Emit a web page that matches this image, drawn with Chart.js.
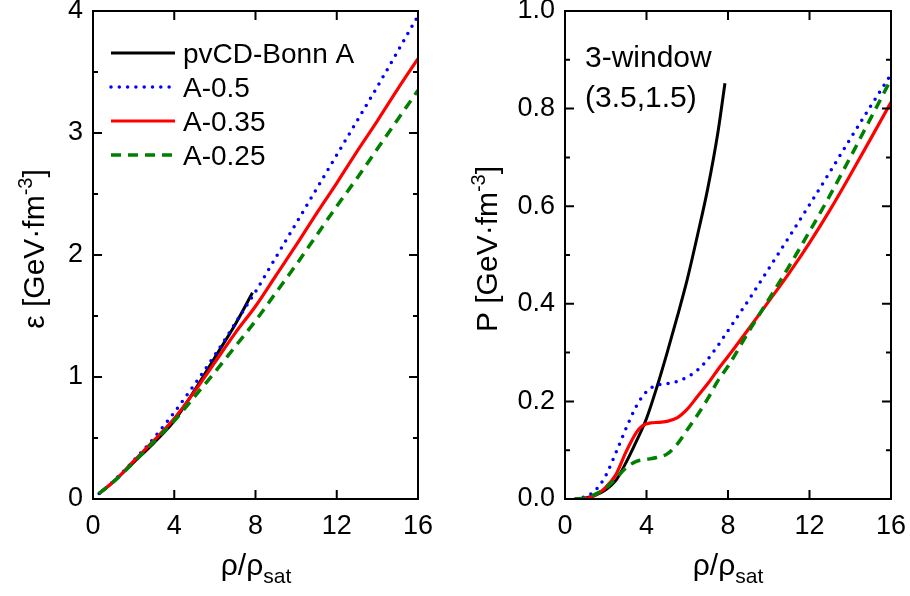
<!DOCTYPE html>
<html>
<head>
<meta charset="utf-8">
<script src="https://cdn.jsdelivr.net/npm/chart.js@4.4.1/dist/chart.umd.min.js"></script>
<style>
  html, body { margin: 0; padding: 0; background: #fff; }
  #wrap { position: relative; width: 910px; height: 596px; }
  canvas { position: absolute; top: 0; }
  #cE { left: 0; }
  #cP { left: 455px; }
</style>
</head>
<body>
<div id="wrap">
  <canvas id="cE" width="455" height="596"></canvas>
  <canvas id="cP" width="455" height="596"></canvas>
</div>
<script>
const FONT = "'Liberation Sans', Arial, Helvetica, sans-serif"
Chart.defaults.font.family = FONT
Chart.defaults.color = '#000'

// ---- data (x = rho/rho_sat) ----
const seriesNames = ['pvCD-Bonn A', 'A-0.5', 'A-0.35', 'A-0.25']
const xTicksRho = [0, 4, 8, 12, 16]

// left panel: energy density [GeV fm^-3]
const rhoBonnE = [0.3, 1, 2, 3, 4, 5, 6, 7, 7.85]
const epsBonn = [0.045, 0.14, 0.30, 0.46, 0.64, 0.89, 1.16, 1.43, 1.69]
const rhoE = [0.3, 1, 2, 3, 4, 5, 6, 7, 8, 9, 10, 11, 12, 13, 14, 15, 16]
const epsA05 = [0.045, 0.145, 0.315, 0.50, 0.71, 0.94, 1.18, 1.44, 1.70, 1.98, 2.26, 2.54, 2.82, 3.10, 3.38, 3.67, 3.96]
const epsA035 = [0.045, 0.14, 0.31, 0.48, 0.66, 0.88, 1.12, 1.36, 1.58, 1.83, 2.08, 2.34, 2.59, 2.85, 3.10, 3.36, 3.61]
const epsA025 = [0.045, 0.14, 0.30, 0.47, 0.64, 0.84, 1.04, 1.25, 1.46, 1.69, 1.92, 2.16, 2.40, 2.63, 2.87, 3.11, 3.35]

// right panel: pressure [GeV fm^-3]
const rhoBonnP = [0.5, 1, 1.5, 2, 2.5, 3, 3.5, 4, 4.5, 5, 5.5, 6, 6.5, 7, 7.5, 7.85]
const pBonn = [0, 0.002, 0.008, 0.019, 0.038, 0.075, 0.118, 0.165, 0.228, 0.298, 0.372, 0.45, 0.54, 0.635, 0.75, 0.852]
const rhoP = [0.5, 1, 1.5, 2, 2.5, 3, 3.5, 4, 4.5, 5, 5.5, 6, 6.5, 7, 7.5, 8, 9, 10, 11, 12, 13, 14, 15, 16]
const pA05 = [0, 0.005, 0.018, 0.048, 0.095, 0.145, 0.19, 0.22, 0.233, 0.236, 0.241, 0.25, 0.264, 0.286, 0.314, 0.345, 0.407, 0.472, 0.537, 0.603, 0.67, 0.738, 0.805, 0.87]
const rhoPA035 = [0.5, 1, 1.5, 2, 2.5, 3, 3.5, 3.8, 4.2, 4.6, 5, 5.5, 6, 6.5, 7, 7.5, 8, 9, 10, 11, 12, 13, 14, 15, 16]
const pA035 = [0, 0.001, 0.008, 0.024, 0.05, 0.097, 0.136, 0.150, 0.156, 0.157, 0.159, 0.166, 0.184, 0.21, 0.236, 0.265, 0.292, 0.348, 0.405, 0.463, 0.525, 0.592, 0.664, 0.738, 0.813]
const pA025 = [0, 0.002, 0.01, 0.022, 0.042, 0.064, 0.077, 0.081, 0.085, 0.092, 0.112, 0.142, 0.172, 0.205, 0.242, 0.272, 0.342, 0.409, 0.477, 0.548, 0.622, 0.70, 0.78, 0.86]

const pts = (xs, ys) => xs.map((x, i) => ({ x, y: ys[i] }))

const lineStyles = [
  { borderColor: '#000000', borderWidth: 3 },
  { borderColor: '#0000ff', borderWidth: 3.5, borderDash: [0, 8.3], borderCapStyle: 'round' },
  { borderColor: '#ff0000', borderWidth: 3.2 },
  { borderColor: '#008000', borderWidth: 3.5, borderDash: [10, 7] }
]

const makeDatasets = (series) => series.map((data, i) => ({
  label: seriesNames[i],
  data,
  ...lineStyles[i],
  pointRadius: 0,
  fill: false,
  cubicInterpolationMode: 'monotone',
  order: 3 - i
}))

// box + inward ticks on all four sides
const frame = {
  id: 'frame',
  afterDatasetsDraw (chart, args, opts) {
    const { ctx, chartArea: a, scales: { x, y } } = chart
    ctx.save()
    ctx.strokeStyle = '#000'
    ctx.lineWidth = 2
    ctx.beginPath()
    x.ticks.forEach(t => {
      const px = x.getPixelForValue(t.value)
      ctx.moveTo(px, a.bottom); ctx.lineTo(px, a.bottom - 9)
      ctx.moveTo(px, a.top); ctx.lineTo(px, a.top + 9)
    })
    y.ticks.forEach((t, i) => {
      const py = y.getPixelForValue(t.value)
      ctx.moveTo(a.left, py); ctx.lineTo(a.left + 9, py)
      ctx.moveTo(a.right, py); ctx.lineTo(a.right - 9, py)
      if (i < y.ticks.length - 1) {
        const pm = y.getPixelForValue(t.value + opts.minor)
        ctx.moveTo(a.left, pm); ctx.lineTo(a.left + 5, pm)
        ctx.moveTo(a.right, pm); ctx.lineTo(a.right - 5, pm)
      }
    })
    ctx.stroke()
    ctx.strokeRect(a.left, a.top, a.right - a.left, a.bottom - a.top)
    ctx.restore()
  }
}

function richText (ctx, parts, x, y) {
  let w = 0
  parts.forEach(([t, size]) => { ctx.font = `${size}px ${FONT}`; w += ctx.measureText(t).width })
  let cx = x - w / 2
  parts.forEach(([t, size, dy]) => {
    ctx.font = `${size}px ${FONT}`
    ctx.fillText(t, cx, y + dy)
    cx += ctx.measureText(t).width
  })
}

// axis titles with sub/superscripts, legend and note
const labels = {
  id: 'labels',
  afterDraw (chart, args, opts) {
    const { ctx } = chart
    ctx.save()
    ctx.fillStyle = '#000'
    ctx.textBaseline = 'alphabetic'
    ctx.textAlign = 'left'
    richText(ctx, [['ρ/ρ', 30, 0], ['sat', 21, 8]], opts.xTitleX, 575)
    ctx.save()
    ctx.translate(opts.yTitleX, 249)
    ctx.rotate(-Math.PI / 2)
    richText(ctx, [[opts.yName + ' [GeV·fm', 30, 0], ['-3', 20, -12], [']', 30, 0]], 0, 10)
    ctx.restore()

    if (opts.legend) {
      chart.data.datasets.forEach((ds, i) => {
        const yy = 53 + i * 34
        ctx.save()
        ctx.strokeStyle = ds.borderColor
        ctx.lineWidth = ds.borderWidth
        ctx.lineCap = ds.borderCapStyle || 'butt'
        ctx.setLineDash(ds.borderDash || [])
        ctx.beginPath()
        ctx.moveTo(111, yy); ctx.lineTo(175, yy)
        ctx.stroke()
        ctx.restore()
        ctx.font = `28px ${FONT}`
        ctx.fillText(ds.label, 183, yy + 10)
      })
    }
    if (opts.note) {
      ctx.font = `30px ${FONT}`
      opts.note.forEach((line, i) => ctx.fillText(line, 130, 67 + i * 40))
    }
    ctx.restore()
  }
}

const makeOptions = (cfg) => ({
  responsive: false,
  animation: false,
  layout: { padding: { top: 11, right: cfg.padRight, bottom: 0, left: 0 } },
  plugins: {
    legend: { display: false },
    tooltip: { enabled: false },
    frame: { minor: cfg.minor },
    labels: cfg.labels
  },
  scales: {
    x: {
      type: 'linear',
      min: 0,
      max: 16,
      grid: { display: false, drawTicks: false },
      border: { display: false },
      afterBuildTicks: s => { s.ticks = xTicksRho.map(v => ({ value: v })) },
      ticks: { font: { size: 27 }, padding: 11, maxRotation: 0, autoSkip: false },
      afterFit: s => { s.height = 97; s.paddingLeft = 0; s.paddingRight = 0 }
    },
    y: {
      type: 'linear',
      min: 0,
      max: cfg.yMax,
      grid: { display: false, drawTicks: false },
      border: { display: false },
      ticks: { stepSize: cfg.yStep, font: { size: 27 }, padding: 10, callback: cfg.fmt },
      afterFit: s => { s.width = cfg.yWidth; s.paddingTop = 0; s.paddingBottom = 0 }
    }
  }
})

new Chart(document.getElementById('cE'), {
  type: 'line',
  data: {
    datasets: makeDatasets([
      pts(rhoBonnE, epsBonn), pts(rhoE, epsA05), pts(rhoE, epsA035), pts(rhoE, epsA025)
    ])
  },
  options: makeOptions({
    padRight: 37, yWidth: 93, yMax: 4, yStep: 1, minor: 0.5,
    fmt: v => String(v),
    labels: { xTitleX: 256, yTitleX: 34, yName: 'ε', legend: true }
  }),
  plugins: [frame, labels]
})

new Chart(document.getElementById('cP'), {
  type: 'line',
  data: {
    datasets: makeDatasets([
      pts(rhoBonnP, pBonn), pts(rhoP, pA05), pts(rhoPA035, pA035), pts(rhoP, pA025)
    ])
  },
  options: makeOptions({
    padRight: 19, yWidth: 110, yMax: 1.0, yStep: 0.2, minor: 0.1,
    fmt: v => v.toFixed(1),
    labels: { xTitleX: 273, yTitleX: 32, yName: 'P', note: ['3-window', '(3.5,1.5)'] }
  }),
  plugins: [frame, labels]
})
</script>
</body>
</html>
